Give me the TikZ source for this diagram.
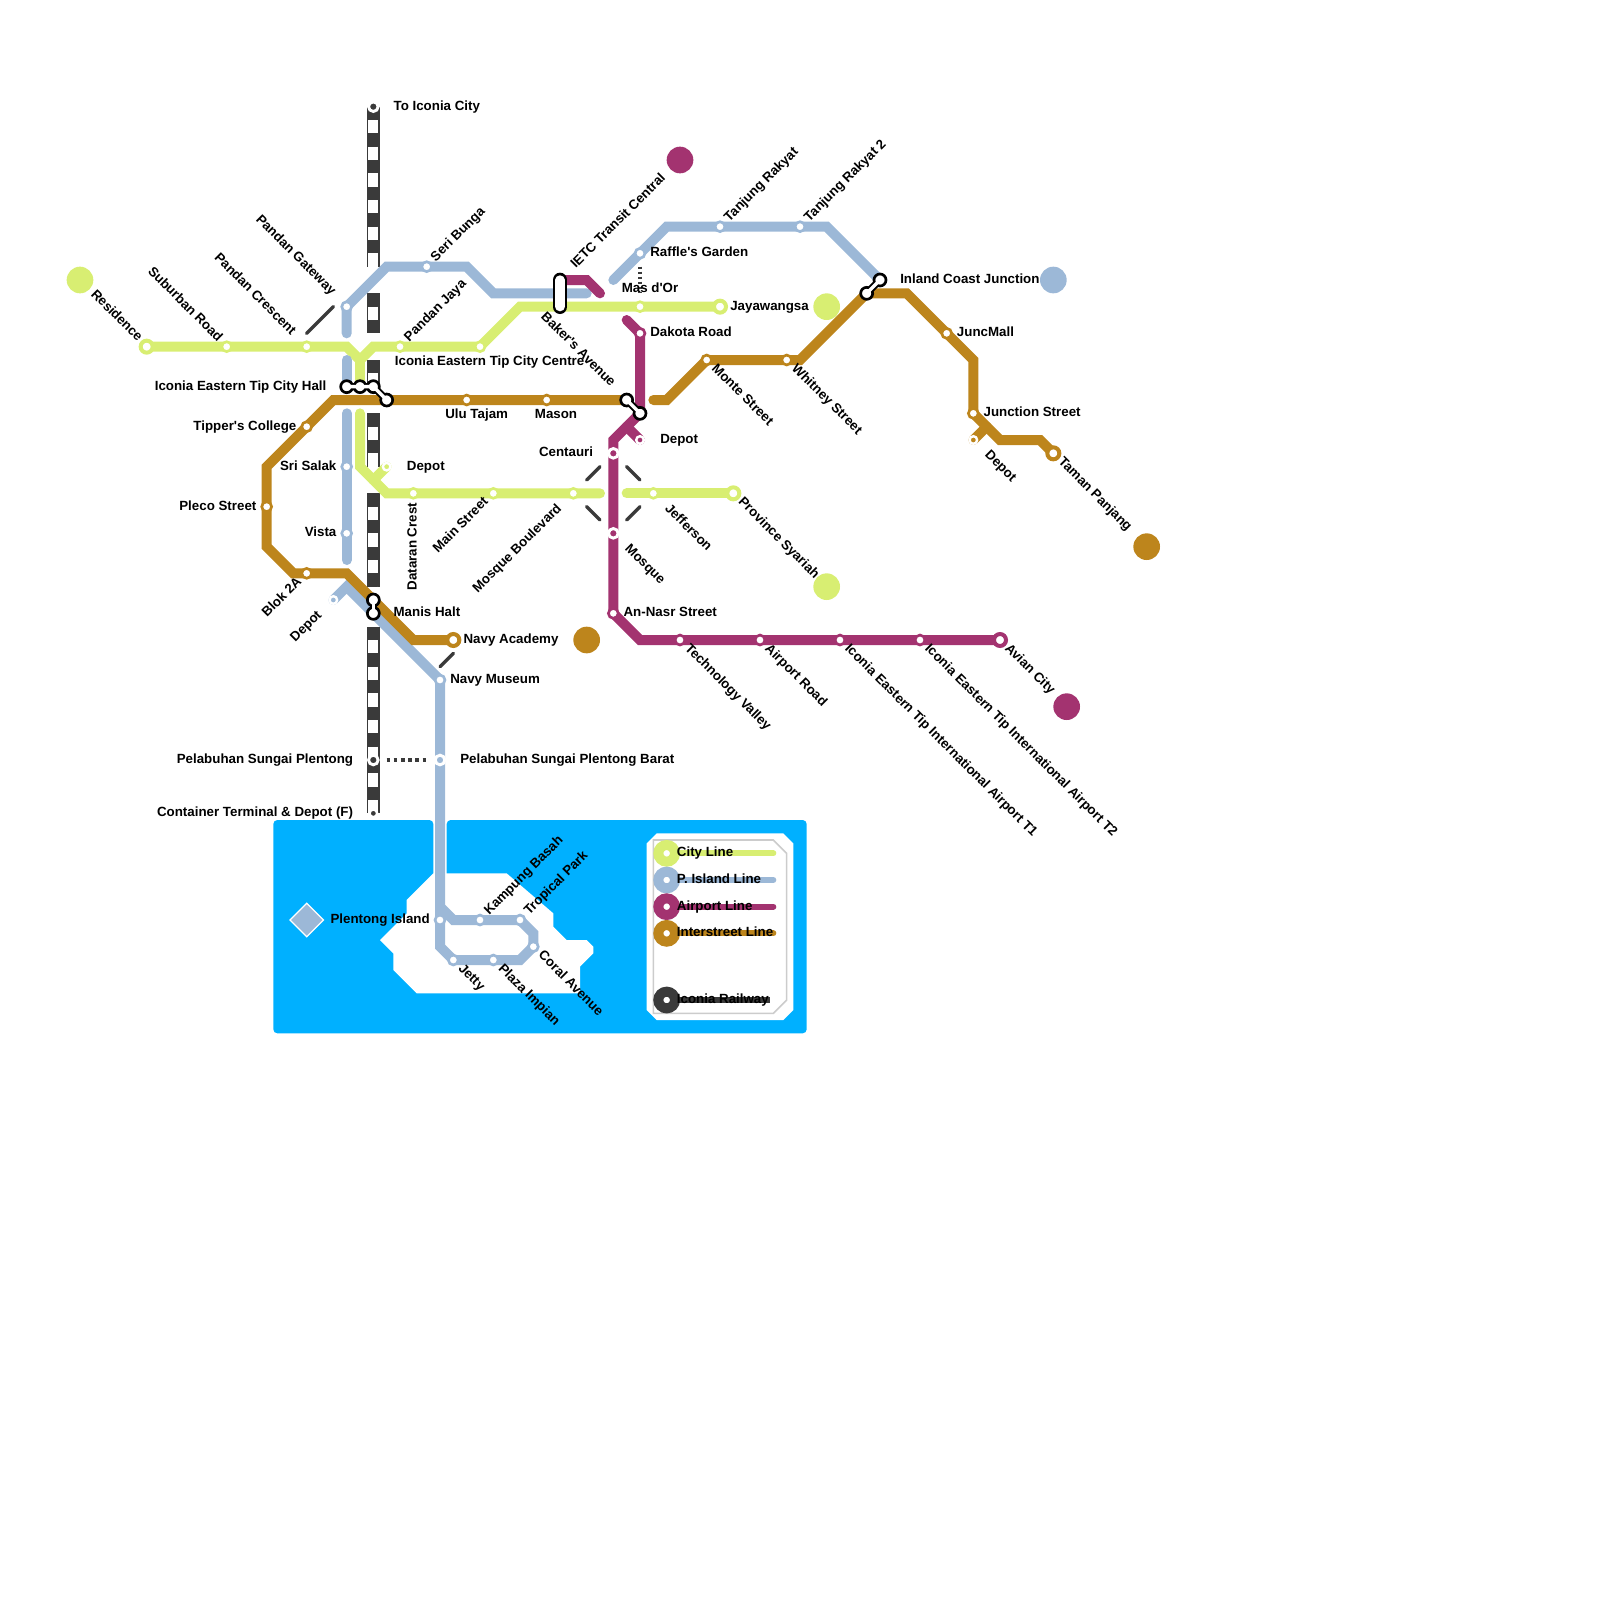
\documentclass[tikz,border=0pt]{standalone}
\usepackage{fontspec}
\setmainfont{Liberation Sans}[Ligatures=TeXOff]
\usetikzlibrary{positioning,shapes.geometric}
\definecolor{citygreen}{RGB}{216,238,114}
\definecolor{islandblue}{RGB}{156,184,215}
\definecolor{airportpurple}{RGB}{163,51,112}
\definecolor{streetamber}{RGB}{189,133,28}
\definecolor{railgrey}{RGB}{58,58,58}
\definecolor{waterblue}{RGB}{0,176,255}
\pgfdeclarelayer{lines}
\pgfsetlayers{lines,main}

\begin{document}
\begin{tikzpicture}[
  x=0.33333cm, y=-0.33333cm,
  line/.style={draw=#1, line width=0.25cm, line cap=round},
  keyline/.style={draw=#1, line width=0.15cm},
  rail/.style={draw=railgrey, line width=0.33333cm},
  railgap/.style={draw=white, line width=0.25cm, dash pattern=on 0.33333cm off 0.33333cm},
  walkway/.style={draw=railgrey, line width=0.085cm, line cap=round},
  walkcut/.style={walkway, shorten >=0.4714cm, shorten <=0.4714cm},
  dotway/.style={draw=railgrey, line width=0.09cm},
  stn/.style={circle, inner sep=0pt, minimum size=0.247cm, fill=white, draw=#1, line width=0.067cm},
  term/.style={circle, inner sep=0pt, minimum size=0.3cm, fill=white, draw=#1, line width=0.1cm},
  dotstn/.style={circle, inner sep=0pt, minimum size=0.24cm, fill=#1, draw=white, line width=0.073cm},
  depot/.style={circle, inner sep=0pt, minimum size=0.19cm, fill=#1, draw=white, line width=0.06cm},
  xstn/.style={circle, inner sep=0pt, minimum size=0.3cm, fill=white, draw=black, line width=0.067cm},
  xneck/.style={draw=black, line width=0.18cm},
  xcore/.style={draw=white, line width=0.085cm},
  bigdot/.style={circle, inner sep=0pt, minimum size=0.6667cm, fill=#1},
  keydot/.style={circle, inner sep=0pt, minimum size=0.4167cm, fill=white, draw=#1, line width=0.25cm},
  lbl/.style={font=\fontsize{9.48}{11}\selectfont\bfseries, inner sep=0pt, text height=6.8pt, text depth=2pt, text=black},
  lblr/.style={lbl, anchor=west},
  lbll/.style={lbl, anchor=east},
  lblup/.style={lbl, rotate=45, anchor=west},
  lbldn/.style={lbl, rotate=-45, anchor=west},
  lblupend/.style={lbl, rotate=45, anchor=east},
  lbldnend/.style={lbl, rotate=-45, anchor=east}
]
  \useasboundingbox (0,0) rectangle (120,120);

  % City Line stations
  \node[term=citygreen] (sResidence) at (11,26) {};
  \node[stn=citygreen] (sSuburban) at (17,26) {};
  \node[stn=citygreen] (sCrescent) at (23,26) {};
  \node[stn=citygreen] (sJaya) at (30,26) {};
  \node[stn=citygreen] (sCentre) at (36,26) {};
  \node[stn=citygreen] (sMasdor) at (48,23) {};
  \node[term=citygreen] (sJayawangsa) at (54,23) {};
  \node[depot=citygreen] (dCity) at (29,35) {};
  \node[stn=citygreen] (sDataran) at (31,37) {};
  \node[stn=citygreen] (sMain) at (37,37) {};
  \node[stn=citygreen] (sBoulevard) at (43,37) {};
  \node[stn=citygreen] (sJefferson) at (49,37) {};
  \node[term=citygreen] (sProvince) at (55,37) {};

  % P. Island Line stations
  \node[stn=islandblue] (sGateway) at (26,23) {};
  \node[stn=islandblue] (sSeri) at (32,20) {};
  \node[stn=islandblue] (sRaffle) at (48,19) {};
  \node[stn=islandblue] (sRakyat) at (54,17) {};
  \node[stn=islandblue] (sRakyatB) at (60,17) {};
  \node[stn=islandblue] (sSalak) at (26,35) {};
  \node[stn=islandblue] (sVista) at (26,40) {};
  \node[depot=islandblue] (dIsland) at (25,45) {};
  \node[stn=islandblue] (sMuseum) at (33,51) {};
  \node[dotstn=islandblue] (sBarat) at (33,57) {};
  \node[stn=islandblue] (sPlentongIs) at (33,69) {};
  \node[stn=islandblue] (sBasah) at (36,69) {};
  \node[stn=islandblue] (sTropical) at (39,69) {};
  \node[stn=islandblue] (sCoral) at (40,71) {};
  \node[stn=islandblue] (sImpian) at (37,72) {};
  \node[stn=islandblue] (sJetty) at (34,72) {};

  % Airport Line stations
  \node[stn=airportpurple] (sDakota) at (48,25) {};
  \node[depot=airportpurple] (dAirport) at (48,33) {};
  \node[dotstn=airportpurple] (sCentauri) at (46,34) {};
  \node[dotstn=airportpurple] (sMosque) at (46,40) {};
  \node[stn=airportpurple] (sNasr) at (46,46) {};
  \node[stn=airportpurple] (sValley) at (51,48) {};
  \node[stn=airportpurple] (sAirRoad) at (57,48) {};
  \node[stn=airportpurple] (sTOne) at (63,48) {};
  \node[stn=airportpurple] (sTTwo) at (69,48) {};
  \node[term=airportpurple] (sAvian) at (75,48) {};

  % Interstreet Line stations
  \node[term=streetamber] (sAcademy) at (34,48) {};
  \node[stn=streetamber] (sBlok) at (23,43) {};
  \node[stn=streetamber] (sPleco) at (20,38) {};
  \node[stn=streetamber] (sTipper) at (23,32) {};
  \node[stn=streetamber] (sUlu) at (35,30) {};
  \node[stn=streetamber] (sMason) at (41,30) {};
  \node[stn=streetamber] (sMonte) at (53,27) {};
  \node[stn=streetamber] (sWhitney) at (59,27) {};
  \node[stn=streetamber] (sJuncMall) at (71,25) {};
  \node[stn=streetamber] (sJunction) at (73,31) {};
  \node[depot=streetamber] (dStreet) at (73,33) {};
  \node[term=streetamber] (sTaman) at (79,34) {};

  % Railway stations
  \node[dotstn=railgrey] (sToIconia) at (28,8) {};
  \node[dotstn=railgrey] (sPlentong) at (28,57) {};
  \node[depot=railgrey] (sContainer) at (28,61) {};

  % Interchanges and the pill at Baker's Avenue
  \node[xstn] (xHallA) at (26,29) {};
  \node[xstn] (xHallB) at (27,29) {};
  \node[xstn] (xHallC) at (28,29) {};
  \node[xstn] (xHallD) at (29,30) {};
  \node[xstn] (xCentA) at (47,30) {};
  \node[xstn] (xCentB) at (48,31) {};
  \node[xstn] (xInlandA) at (65,22) {};
  \node[xstn] (xInlandB) at (66,21) {};
  \node[xstn] (xManisA) at (28,45) {};
  \node[xstn] (xManisB) at (28,46) {};
  \coordinate (xBakerA) at (42,21);
  \coordinate (xBakerB) at (42,23);

  % Free ends of the dashed links and of the key lines
  \coordinate (wCrescent) at (23,25);
  \coordinate (wGateway) at (25,23);
  \coordinate (wAcademy) at (34,49);
  \coordinate (wMuseum) at (33,50);
  \coordinate (kCity) at (58,64);
  \coordinate (kIsland) at (58,66);
  \coordinate (kAirport) at (58,68);
  \coordinate (kStreet) at (58,70);
  \coordinate (kRail) at (57.75,75);

  % Big line markers
  \node[bigdot=citygreen] (mResidence) at (6,21) {};
  \node[bigdot=citygreen] (mJayawangsa) at (62,23) {};
  \node[bigdot=citygreen] (mProvince) at (62,44) {};
  \node[bigdot=airportpurple] (mIetc) at (51,12) {};
  \node[bigdot=airportpurple] (mAvian) at (80,53) {};
  \node[bigdot=islandblue] (mInland) at (79,21) {};
  \node[bigdot=streetamber] (mAcademy) at (44,48) {};
  \node[bigdot=streetamber] (mTaman) at (86,41) {};

  \begin{pgfonlayer}{lines}
    % Water, island and key panel
    \fill[waterblue, rounded corners=0.1cm] (20.5,61.5) -- (32.5,61.5) -- (32.5,66) -- (33.5,66) -- (33.5,61.5) -- (60.5,61.5) -- (60.5,77.5) -- (20.5,77.5) -- cycle;
    \fill[white] (33.5,65.5) -- (38,65.5) -- (41.5,68.5) -- (41.5,69.5) -- (42.5,70.5) -- (44,70.5) -- (44.5,71) -- (44.5,71.5) -- (43.5,72.5) -- (43.5,74.5) -- (31.25,74.5) -- (29.5,72.75) -- (29.5,71.5) -- (28.5,70.5) -- (30.5,68.5) -- (30.5,67.5) -- (32.5,65.5) -- cycle;
    \fill[white] (49.25,62.5) -- (58.75,62.5) -- (59.5,63.25) -- (59.5,75.75) -- (58.75,76.5) -- (49.25,76.5) -- (48.5,75.75) -- (48.5,63.25) -- cycle;
    \draw[black!20, line width=0.04cm] (49,63) -- (58,63) -- (59,64) -- (59,75) -- (58,76) -- (49,76) -- cycle;

    % Railway, broken where lines cross it
    \draw[rail] (sToIconia.center) -- (28,20);
    \draw[railgap] (28,9) -- (28,20);
    \draw[rail] (28,22) -- (28,25);
    \draw[railgap] (28,23) -- (28,24);
    \draw[rail] (28,27) -- (xHallC.center);
    \draw[railgap] (28,28) -- (xHallC.center);
    \draw[rail] (28,31) -- (28,35);
    \draw[railgap] (28,32) -- (28,35);
    \draw[rail] (28,37) -- (28,44);
    \draw[railgap] (28,38) -- (28,44);
    \draw[rail] (28,47) -- (sContainer.center);
    \draw[railgap] (28,48) -- (sContainer.center);

    % City Line
    \draw[line=citygreen] (sResidence.center) -- (sCrescent.center) -- (26,26) -- (27,27) -- (28,26) -- (sCentre.center) -- (39,23) -- (sJayawangsa.center);
    \draw[line=citygreen] (27,27) -- (xHallB.center);
    \draw[line=citygreen] (27,31) -- (27,35) -- (29,37) -- (45,37);
    \draw[line=citygreen] (47,37) -- (sProvince.center);
    \draw[line=citygreen] (28,36) -- (dCity.center);

    % P. Island Line
    \draw[line=islandblue] (26,25) -- (sGateway.center) -- (29,20) -- (35,20) -- (37,22) -- (44,22);
    \draw[line=islandblue] (46,21) -- (50,17) -- (62,17) -- (xInlandB.center);
    \draw[line=islandblue] (26,27) -- (xHallA.center);
    \draw[line=islandblue] (26,31) -- (26,42);
    \draw[line=islandblue] (dIsland.center) -- (26,44) -- (sMuseum.center) -- (33,71) -- (sJetty.center) -- (39,72) -- (sCoral.center) -- (40,70) -- (sTropical.center) -- (34,69) -- (33,68);

    % Airport Line
    \draw[line=airportpurple] (xBakerA) -- (44,21) -- (45,22);
    \draw[line=airportpurple] (47,24) -- (sDakota.center) -- (xCentB.center) -- (46,33) -- (sNasr.center) -- (48,48) -- (sAvian.center);
    \draw[line=airportpurple] (47,32) -- (dAirport.center);

    % Interstreet Line
    \draw[line=streetamber] (sAcademy.center) -- (31,48) -- (26,43) -- (22,43) -- (20,41) -- (20,35) -- (25,30) -- (xCentA.center);
    \draw[line=streetamber] (49,30) -- (50,30) -- (sMonte.center) -- (60,27) -- (xInlandA.center) -- (68,22) -- (73,27) -- (sJunction.center) -- (75,33) -- (78,33) -- (sTaman.center);
    \draw[line=streetamber] (74,32) -- (dStreet.center);

    % Walking links
    \draw[walkway] (wCrescent) -- (wGateway);
    \draw[walkcut] (sBoulevard.center) -- (sCentauri.center);
    \draw[walkcut] (sJefferson.center) -- (sCentauri.center);
    \draw[walkcut] (sBoulevard.center) -- (sMosque.center);
    \draw[walkcut] (sJefferson.center) -- (sMosque.center);
    \draw[walkway] (wAcademy) -- (wMuseum);
    \draw[dotway, dash pattern=on 0.0625cm off 0.0625cm, shorten <=0.33cm, shorten >=0.33cm] (sRaffle.center) -- (sMasdor.center);
    \draw[dotway, dash pattern=on 0.09cm off 0.09cm, shorten <=0.33cm, shorten >=0.33cm] (sPlentong.center) -- (sBarat.center);

    % Key lines
    \draw[keyline=citygreen, line cap=round] (50,64) -- (kCity);
    \draw[keyline=islandblue, line cap=round] (50,66) -- (kIsland);
    \draw[keyline=airportpurple, line cap=round] (50,68) -- (kAirport);
    \draw[keyline=streetamber, line cap=round] (50,70) -- (kStreet);
    \draw[keyline=railgrey, line width=0.1667cm] (50,75) -- (kRail);

    % Necks of the interchanges
    \draw[xneck] (xHallA.center) -- (xHallB.center) -- (xHallC.center) -- (xHallD.center);
    \draw[xneck] (xCentA.center) -- (xCentB.center);
    \draw[xneck] (xInlandA.center) -- (xInlandB.center);
    \draw[xneck] (xManisA.center) -- (xManisB.center);
  \end{pgfonlayer}

  % White cores over the interchange circles
  \draw[xcore] (xHallA.center) -- (xHallB.center) -- (xHallC.center) -- (xHallD.center);
  \draw[xcore] (xCentA.center) -- (xCentB.center);
  \draw[xcore] (xInlandA.center) -- (xInlandB.center);
  \draw[xcore] (xManisA.center) -- (xManisB.center);
  \draw[black, line width=0.367cm, line cap=round] (xBakerA) -- (xBakerB);
  \draw[white, line width=0.233cm, line cap=round] (xBakerA) -- (xBakerB);

  % Island marker and key dots
  \node[diamond, inner sep=0pt, minimum width=0.85cm, minimum height=0.85cm, fill=islandblue, draw=white, line width=0.03cm] (mIsland) at (23,69) {};
  \node[keydot=citygreen] (kdCity) at (50,64) {};
  \node[keydot=islandblue] (kdIsland) at (50,66) {};
  \node[keydot=airportpurple] (kdAirport) at (50,68) {};
  \node[keydot=streetamber] (kdStreet) at (50,70) {};
  \node[keydot=railgrey] (kdRail) at (50,75) {};

  % Labels to the right
  \node[lblr] (lToIconia) at (29.5,8) {To Iconia City};
  \node[lblr] (lRaffle) at (48.75,19) {Raffle's Garden};
  \node[lblr] (lJayawangsa) at (54.75,23) {Jayawangsa};
  \node[lblr] (lDakota) at (48.75,25) {Dakota Road};
  \node[lblr] (lDepotAir) at (49.5,33) {Depot};
  \node[lblr] (lDepotCity) at (30.5,35) {Depot};
  \node[lblr] (lInland) at (67.5,21) {Inland Coast Junction};
  \node[lblr] (lJuncMall) at (71.75,25) {JuncMall};
  \node[lblr] (lJunction) at (73.75,31) {Junction Street};
  \node[lblr] (lManis) at (29.5,46) {Manis Halt};
  \node[lblr] (lAcademy) at (34.75,48) {Navy Academy};
  \node[lblr] (lMuseum) at (33.75,51) {Navy Museum};
  \node[lblr] (lBarat) at (34.5,57) {Pelabuhan Sungai Plentong Barat};
  \node[lblr] (lNasr) at (46.75,46) {An-Nasr Street};
  \node[lblr] (lCentre) at (29.6,27.15) {Iconia Eastern Tip City Centre};

  % Labels centred under or over their stations
  \node[lbl] (lMasdor) at (48.75,21.65) {Mas d'Or};
  \node[lbl] (lUlu) at (35.75,31.15) {Ulu Tajam};
  \node[lbl] (lMason) at (41.7,31.15) {Mason};

  % Labels to the left
  \node[lbll] (lHall) at (24.5,29) {Iconia Eastern Tip City Hall};
  \node[lbll] (lTipper) at (22.25,32) {Tipper's College};
  \node[lbll] (lSalak) at (25.25,35) {Sri Salak};
  \node[lbll] (lVista) at (25.25,40) {Vista};
  \node[lbll] (lPleco) at (19.25,38) {Pleco Street};
  \node[lbll] (lCentauri) at (44.5,34) {Centauri};
  \node[lbll] (lPlentong) at (26.5,57) {Pelabuhan Sungai Plentong};
  \node[lbll] (lContainer) at (26.5,61) {Container Terminal \& Depot (F)};
  \node[lbll] (lPlentongIs) at (32.25,69) {Plentong Island};

  % Labels rising to the right
  \node[lblup] (lRakyat) at (54.5,16.5) {Tanjung Rakyat};
  \node[lblup] (lRakyatB) at (60.5,16.5) {Tanjung Rakyat 2};
  \node[lblup] (lIetc) at (43,20) {IETC Transit Central};
  \node[lblup] (lSeri) at (32.5,19.5) {Seri Bunga};
  \node[lblup] (lJaya) at (30.5,25.5) {Pandan Jaya};
  \node[lblup] (lBasah) at (36.5,68.5) {Kampung Basah};
  \node[lblup] (lTropical) at (39.5,68.5) {Tropical Park};
  \node[lblupend] (lMain) at (36.5,37.5) {Main Street};
  \node[lblupend] (lBoulevard) at (42,38) {Mosque Boulevard};
  \node[lblupend] (lBlok) at (22.5,43.5) {Blok 2A};
  \node[lblupend] (lDepotIsland) at (24,46) {Depot};
  \node[lbl, rotate=90, anchor=east] (lDataran) at (31,37.7) {Dataran Crest};

  % Labels falling to the right
  \node[lbldn] (lBaker) at (40.7,23.6) {Baker's Avenue};
  \node[lbldn] (lMonte) at (53.5,27.5) {Monte Street};
  \node[lbldn] (lWhitney) at (59.5,27.5) {Whitney Street};
  \node[lbldn] (lTaman) at (79.5,34.5) {Taman Panjang};
  \node[lbldn] (lDepotStreet) at (74,34) {Depot};
  \node[lbldn] (lJefferson) at (50,38) {Jefferson};
  \node[lbldn] (lProvince) at (55.5,37.5) {Province Syariah};
  \node[lbldn] (lMosque) at (47,41) {Mosque};
  \node[lbldn] (lValley) at (51.5,48.5) {Technology Valley};
  \node[lbldn] (lAirRoad) at (57.5,48.5) {Airport Road};
  \node[lbldn] (lTOne) at (63.5,48.5) {Iconia Eastern Tip International Airport T1};
  \node[lbldn] (lTTwo) at (69.5,48.5) {Iconia Eastern Tip International Airport T2};
  \node[lbldn] (lAvian) at (75.5,48.5) {Avian City};
  \node[lbldn] (lCoral) at (40.5,71.5) {Coral Avenue};
  \node[lbldn] (lImpian) at (37.5,72.5) {Plaza Impian};
  \node[lbldn] (lJetty) at (34.5,72.5) {Jetty};
  \node[lbldnend] (lResidence) at (10.5,25.5) {Residence};
  \node[lbldnend] (lSuburban) at (16.5,25.5) {Suburban Road};
  \node[lbldnend] (lCrescent) at (22,25) {Pandan Crescent};
  \node[lbldnend] (lGateway) at (25,22) {Pandan Gateway};

  % Key text
  \node[lblr] (tCity) at (50.75,64) {City Line};
  \node[lblr] (tIsland) at (50.75,66) {P. Island Line};
  \node[lblr] (tAirport) at (50.75,68) {Airport Line};
  \node[lblr] (tStreet) at (50.75,70) {Interstreet Line};
  \node[lblr] (tRail) at (50.75,75) {Iconia Railway};
\end{tikzpicture}
\end{document}
